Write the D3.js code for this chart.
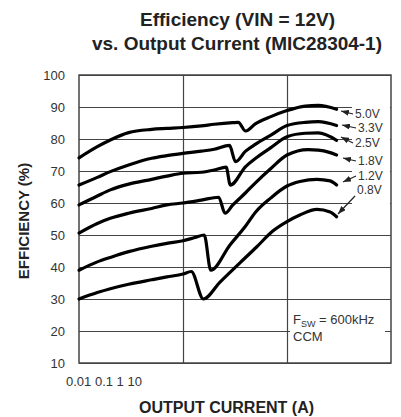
<!DOCTYPE html>
<html>
<head>
<meta charset="utf-8">
<script src="https://cdn.jsdelivr.net/npm/d3@7"></script>
<style>
  body { margin: 0; background: #fff; }
  svg { display: block; font-family: "Liberation Sans", Arial, sans-serif; }
</style>
</head>
<body>
<div id="chart"></div>
<script>
// tick values / labels
const yTicks = [10, 20, 30, 40, 50, 60, 70, 80, 90, 100];
const xGrid = [0.1, 1];
const xTickLabels = ["0.01", "0.1", "1", "10"];
const seriesNames = ["5.0V", "3.3V", "2.5V", "1.8V", "1.2V", "0.8V"];

// output current (A) and efficiency (%)
const cur50 = [0.01, 0.015, 0.02, 0.03, 0.05, 0.07, 0.1, 0.15, 0.2, 0.3, 0.34, 0.40, 0.5, 0.7, 1, 1.5, 2, 3];
const eff50 = [74.1, 77.6, 79.7, 82.0, 83.0, 83.3, 83.6, 84.1, 84.6, 85.1, 85.2, 82.5, 84.8, 87.0, 88.9, 90.3, 90.5, 89.3];

const cur33 = [0.01, 0.015, 0.02, 0.03, 0.05, 0.07, 0.1, 0.15, 0.2, 0.28, 0.32, 0.4, 0.5, 0.7, 1, 1.5, 2, 3];
const eff33 = [65.6, 68.0, 69.8, 71.9, 74.0, 74.8, 75.5, 76.2, 76.8, 78.0, 72.9, 76.2, 78.4, 81.2, 84.2, 85.2, 85.4, 84.2];

const cur25 = [0.01, 0.015, 0.02, 0.03, 0.05, 0.07, 0.1, 0.15, 0.2, 0.26, 0.285, 0.4, 0.5, 0.7, 1, 1.5, 2, 3];
const eff25 = [59.4, 62.2, 64.1, 65.9, 67.4, 68.4, 69.3, 69.6, 70.3, 71.2, 65.6, 71.4, 74.0, 77.3, 80.7, 81.8, 81.9, 79.6];

const cur18 = [0.01, 0.015, 0.02, 0.03, 0.05, 0.07, 0.1, 0.15, 0.22, 0.254, 0.3, 0.4, 0.5, 0.7, 1, 1.6, 2, 2.5, 3];
const eff18 = [50.6, 53.6, 55.2, 56.8, 58.3, 59.4, 60.0, 60.9, 61.8, 56.8, 59.3, 63.2, 66.4, 70.8, 75.0, 76.7, 76.5, 75.9, 75.0];

const cur12 = [0.01, 0.015, 0.02, 0.03, 0.05, 0.07, 0.1, 0.13, 0.16, 0.185, 0.283, 0.4, 0.5, 0.7, 1, 1.33, 1.94, 2.6, 3];
const eff12 = [39.0, 41.6, 43.0, 44.8, 46.5, 47.4, 48.2, 49.2, 50.0, 39.0, 46.9, 52.8, 57.2, 61.6, 65.3, 66.7, 67.4, 66.9, 65.6];

const cur08 = [0.01, 0.015, 0.02, 0.03, 0.05, 0.07, 0.1, 0.12, 0.157, 0.227, 0.353, 0.51, 0.73, 1, 1.33, 1.94, 2.6, 3];
const eff08 = [30.0, 32.0, 33.2, 34.6, 36.0, 36.9, 37.8, 38.6, 30.0, 35.3, 41.3, 46.25, 51.25, 54.2, 56.25, 58.0, 57.2, 55.7];

const curList = [cur50, cur33, cur25, cur18, cur12, cur08];
const effList = [eff50, eff33, eff25, eff18, eff12, eff08];

const W = 401, H = 417;
const margin = {top: 75, right: 10, bottom: 54, left: 79};
const width = W - margin.left - margin.right,
      height = H - margin.top - margin.bottom;

const svg = d3.select("#chart").append("svg")
  .attr("width", W).attr("height", H);

const defs = svg.append("defs");
defs.append("marker")
  .attr("id", "arr")
  .attr("viewBox", "0 0 8 6")
  .attr("refX", 8).attr("refY", 3)
  .attr("markerWidth", 8).attr("markerHeight", 6)
  .attr("markerUnits", "userSpaceOnUse")
  .attr("orient", "auto")
  .append("path").attr("d", "M0,0 L8,3 L0,6 Z").attr("fill", "#222");

// title
svg.append("text")
  .attr("x", 237.5).attr("y", 26)
  .attr("text-anchor", "middle")
  .attr("font-size", 18).attr("font-weight", "bold").attr("fill", "#222")
  .attr("textLength", 195).attr("lengthAdjust", "spacingAndGlyphs")
  .text("Efficiency (VIN = 12V)");
svg.append("text")
  .attr("x", 237).attr("y", 50)
  .attr("text-anchor", "middle")
  .attr("font-size", 18).attr("font-weight", "bold").attr("fill", "#222")
  .attr("textLength", 290).attr("lengthAdjust", "spacingAndGlyphs")
  .text("vs. Output Current (MIC28304-1)");

const g = svg.append("g")
  .attr("transform", "translate(" + margin.left + "," + margin.top + ")");

const x = d3.scaleLog().domain([0.01, 10]).range([0, width]);
const y = d3.scaleLinear().domain([10, 100]).range([height, 0]);

// horizontal grid + y labels
const yAxis = g.append("g")
  .call(d3.axisLeft(y).tickValues(yTicks).tickSize(-width).tickPadding(14).tickFormat(d3.format("d")));
yAxis.select(".domain").remove();
yAxis.selectAll(".tick line").attr("stroke", "#444").attr("stroke-width", 1.2);
yAxis.selectAll(".tick text")
  .attr("font-size", 13).attr("fill", "#333")
  .attr("font-family", "'Liberation Sans', Arial, sans-serif");

// vertical grid
const xAxis = g.append("g")
  .attr("transform", "translate(0," + height + ")")
  .call(d3.axisBottom(x).tickValues(xGrid).tickSize(-height).tickFormat(""));
xAxis.select(".domain").remove();
xAxis.selectAll(".tick line").attr("stroke", "#444").attr("stroke-width", 1.2);

// blank boxes behind the annotations
g.append("rect")
  .attr("x", 273).attr("y", 26).attr("width", 38).attr("height", 108)
  .attr("fill", "#fff");
g.append("rect")
  .attr("x", 211).attr("y", 236).attr("width", 95).attr("height", 34)
  .attr("fill", "#fff");

// frame
g.append("rect")
  .attr("x", 0).attr("y", 0).attr("width", width).attr("height", height)
  .attr("fill", "none").attr("stroke", "#444").attr("stroke-width", 1.5);

// curves
const line = d3.line()
  .x(d => x(d[0]))
  .y(d => y(d[1]))
  .curve(d3.curveMonotoneX);

g.selectAll(".curve")
  .data(curList.map((c, i) => c.map((v, j) => [v, effList[i][j]])))
  .enter().append("path")
  .attr("class", "curve")
  .attr("d", line)
  .attr("fill", "none")
  .attr("stroke", "#000")
  .attr("stroke-width", 3.2)
  .attr("stroke-linejoin", "round")
  .attr("stroke-linecap", "round");

// curve labels with arrows (label position in px, relative to plot)
const labelPos = [
  {lx: 276, ly: 39, tx: 262, ty: 36},
  {lx: 279, ly: 53, tx: 263, ty: 50},
  {lx: 276, ly: 68, tx: 262, ty: 62},
  {lx: 279, ly: 86, tx: 264, ty: 83},
  {lx: 279, ly: 101, tx: 264, ty: 107},
  {lx: 278, ly: 115, tx: 259, ty: 139}
];

seriesNames.forEach((name, i) => {
  const p = labelPos[i];
  const tail = i === 5 ? [p.lx - 2, p.ly + 6] : [p.lx - 2, p.ly];
  g.append("line")
    .attr("x1", tail[0]).attr("y1", tail[1])
    .attr("x2", p.tx).attr("y2", p.ty)
    .attr("stroke", "#222").attr("stroke-width", 1.2)
    .attr("marker-end", "url(#arr)");
  g.append("text")
    .attr("x", p.lx).attr("y", p.ly)
    .attr("dominant-baseline", "central")
    .attr("font-size", 12).attr("fill", "#333")
    .text(name);
});

// Fsw note
const note = g.append("text")
  .attr("x", 214).attr("y", 249)
  .attr("font-size", 13).attr("fill", "#333");
note.append("tspan").text("F");
note.append("tspan").attr("dy", 3).attr("font-size", 9).text("SW");
note.append("tspan").attr("dy", -3).text(" = 600kHz");
g.append("text")
  .attr("x", 214).attr("y", 266)
  .attr("font-size", 13).attr("fill", "#333")
  .text("CCM");

// x tick labels (crowded at the left, as in the original)
svg.append("text")
  .attr("x", 66).attr("y", 386)
  .attr("font-size", 13).attr("fill", "#333")
  .text(xTickLabels.join(" "));

// axis titles
svg.append("text")
  .attr("x", 226.5).attr("y", 413)
  .attr("text-anchor", "middle")
  .attr("font-size", 16).attr("font-weight", "bold").attr("fill", "#222")
  .text("OUTPUT CURRENT (A)");
svg.append("text")
  .attr("transform", "translate(29,221) rotate(-90)")
  .attr("text-anchor", "middle")
  .attr("font-size", 15).attr("font-weight", "bold").attr("fill", "#222")
  .text("EFFICIENCY (%)");
</script>
</body>
</html>
